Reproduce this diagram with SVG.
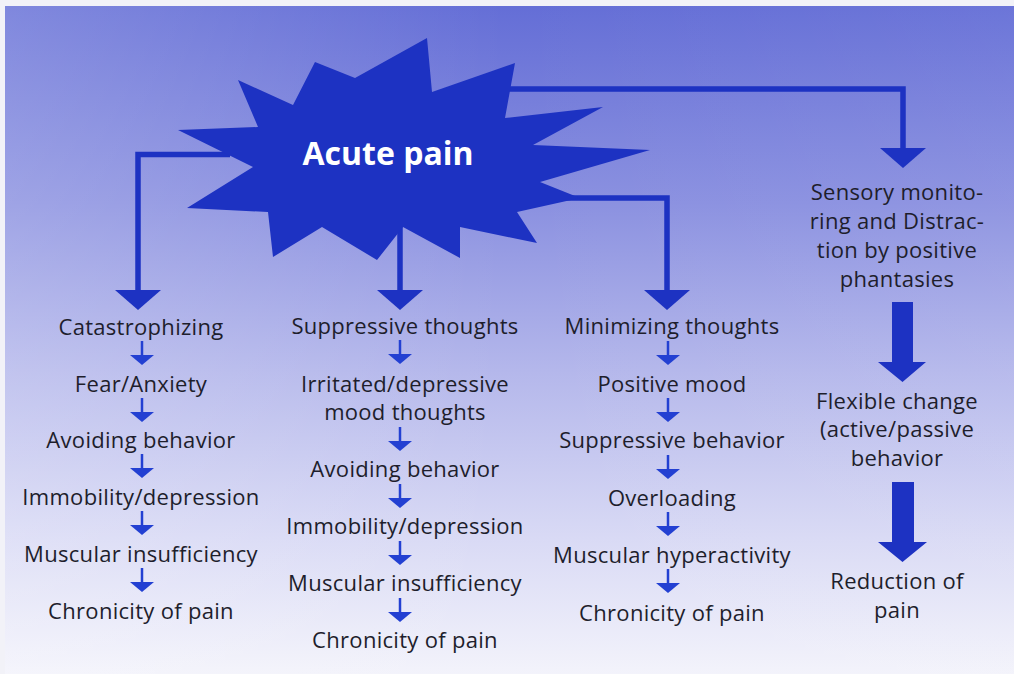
<svg xmlns="http://www.w3.org/2000/svg" width="1014" height="674" viewBox="0 0 1014 674">
  <defs>
    <linearGradient id="bg" x1="0" y1="0" x2="0" y2="1">
      <stop offset="0" stop-color="#636dd6"/>
      <stop offset="0.3" stop-color="#8a90e0"/>
      <stop offset="0.55" stop-color="#b4b7eb"/>
      <stop offset="0.8" stop-color="#d9daf5"/>
      <stop offset="1" stop-color="#f3f3fb"/>
    </linearGradient>
    <linearGradient id="bgside" x1="0" y1="0" x2="1" y2="0">
      <stop offset="0" stop-color="#ffffff" stop-opacity="0.18"/>
      <stop offset="0.5" stop-color="#ffffff" stop-opacity="0"/>
      <stop offset="1" stop-color="#ffffff" stop-opacity="0.05"/>
    </linearGradient>
    <marker id="bigHead" viewBox="0 0 20 46" refX="0" refY="23" markerWidth="20" markerHeight="46" markerUnits="userSpaceOnUse" orient="auto">
      <path d="M0,0 L20,23 L0,46 Z" fill="#1d32c2"/>
    </marker>
    <marker id="smallHead" viewBox="0 0 10 24" refX="0" refY="12" markerWidth="10" markerHeight="24" markerUnits="userSpaceOnUse" orient="auto">
      <path d="M0,0 L10,12 L0,24 Z" fill="#2340d2"/>
    </marker>
    <style>
      .lbl { font-family: "Open Sans", "Noto Sans", "Liberation Sans", sans-serif; font-size: 22px; letter-spacing: 0.3px; fill: #1e1e2c; text-anchor: middle; }
      .title { font-family: "Open Sans", "Noto Sans", "Liberation Sans", sans-serif; font-size: 32px; font-weight: bold; fill: #ffffff; text-anchor: middle; }
      .conn { fill: none; stroke: #1d32c2; stroke-width: 5.5; marker-end: url(#bigHead); }
      .step { fill: none; stroke: #2340d2; stroke-width: 2.5; marker-end: url(#smallHead); }
      .thick { fill: #1d32c2; }
    </style>
  </defs>

  <rect x="0" y="0" width="1014" height="674" fill="url(#bg)"/>
  <rect x="0" y="0" width="1014" height="674" fill="url(#bgside)"/>
  <rect x="0" y="0" width="1014" height="6" fill="#f2f2f8"/>
  <rect x="0" y="0" width="5" height="674" fill="#f2f2f8"/>

  <g id="connectors">
    <path class="conn" d="M230,154.5 L138,154.5 L138,290"/>
    <path class="conn" d="M400,225 L400,290"/>
    <path class="conn" d="M560,198 L667,198 L667,290"/>
    <path class="conn" d="M505,89 L903,89 L903,148"/>
    <!-- column 1 steps -->
    <line class="step" x1="142" y1="341" x2="142" y2="355"/>
    <line class="step" x1="142" y1="398" x2="142" y2="412"/>
    <line class="step" x1="142" y1="454" x2="142" y2="468"/>
    <line class="step" x1="142" y1="511" x2="142" y2="525"/>
    <line class="step" x1="142" y1="568" x2="142" y2="582"/>
    <!-- column 2 steps -->
    <line class="step" x1="400" y1="340" x2="400" y2="354"/>
    <line class="step" x1="400" y1="427" x2="400" y2="441"/>
    <line class="step" x1="400" y1="484" x2="400" y2="498"/>
    <line class="step" x1="400" y1="541" x2="400" y2="555"/>
    <line class="step" x1="400" y1="598" x2="400" y2="612"/>
    <!-- column 3 steps -->
    <line class="step" x1="668" y1="341" x2="668" y2="355"/>
    <line class="step" x1="668" y1="398" x2="668" y2="412"/>
    <line class="step" x1="668" y1="455" x2="668" y2="469"/>
    <line class="step" x1="668" y1="512" x2="668" y2="526"/>
    <line class="step" x1="668" y1="569" x2="668" y2="583"/>
    <!-- column 4 thick arrows -->
    <path class="thick" d="M892,302 L913,302 L913,362 L926,362 L902.5,382 L878,362 L892,362 Z"/>
    <path class="thick" d="M892,482 L914,482 L914,542 L927,542 L902.5,562 L878,542 L892,542 Z"/>
  </g>

  <g id="acute-pain">
    <polygon fill="#1d32c2" points="178,130 258,127 238,80 293,105 315,62 355,78 427,38 432,92 515,63 505,118 603,107 533,145 650,150 540,182 580,198 517,212 537,243 460,227 460,258 403,227 377,260 322,227 273,257 268,212 187,208 253,167"/>
    <text class="title" x="388" y="165">Acute pain</text>
  </g>

  <g id="catastrophizing"><text class="lbl" x="141" y="335">Catastrophizing</text></g>
  <g id="fear-anxiety"><text class="lbl" x="141" y="392">Fear/Anxiety</text></g>
  <g id="avoiding-behavior-1"><text class="lbl" x="141" y="448">Avoiding behavior</text></g>
  <g id="immobility-1"><text class="lbl" x="141" y="505">Immobility/depression</text></g>
  <g id="muscular-insufficiency-1"><text class="lbl" x="141" y="562">Muscular insufficiency</text></g>
  <g id="chronicity-1"><text class="lbl" x="141" y="619">Chronicity of pain</text></g>

  <g id="suppressive-thoughts"><text class="lbl" x="405" y="334">Suppressive thoughts</text></g>
  <g id="irritated-mood"><text class="lbl" x="405" y="392">Irritated/depressive</text><text class="lbl" x="405" y="420">mood thoughts</text></g>
  <g id="avoiding-behavior-2"><text class="lbl" x="405" y="477">Avoiding behavior</text></g>
  <g id="immobility-2"><text class="lbl" x="405" y="534">Immobility/depression</text></g>
  <g id="muscular-insufficiency-2"><text class="lbl" x="405" y="591">Muscular insufficiency</text></g>
  <g id="chronicity-2"><text class="lbl" x="405" y="648">Chronicity of pain</text></g>

  <g id="minimizing-thoughts"><text class="lbl" x="672" y="334">Minimizing thoughts</text></g>
  <g id="positive-mood"><text class="lbl" x="672" y="392">Positive mood</text></g>
  <g id="suppressive-behavior"><text class="lbl" x="672" y="448">Suppressive behavior</text></g>
  <g id="overloading"><text class="lbl" x="672" y="506">Overloading</text></g>
  <g id="muscular-hyperactivity"><text class="lbl" x="672" y="563">Muscular hyperactivity</text></g>
  <g id="chronicity-3"><text class="lbl" x="672" y="621">Chronicity of pain</text></g>

  <g id="sensory-monitoring">
    <text class="lbl" x="897" y="200">Sensory monito-</text>
    <text class="lbl" x="897" y="229">ring and Distrac-</text>
    <text class="lbl" x="897" y="258">tion by positive</text>
    <text class="lbl" x="897" y="287">phantasies</text>
  </g>
  <g id="flexible-change">
    <text class="lbl" x="897" y="409">Flexible change</text>
    <text class="lbl" x="897" y="437">(active/passive</text>
    <text class="lbl" x="897" y="466">behavior</text>
  </g>
  <g id="reduction-of-pain">
    <text class="lbl" x="897" y="589">Reduction of</text>
    <text class="lbl" x="897" y="618">pain</text>
  </g>
</svg>
